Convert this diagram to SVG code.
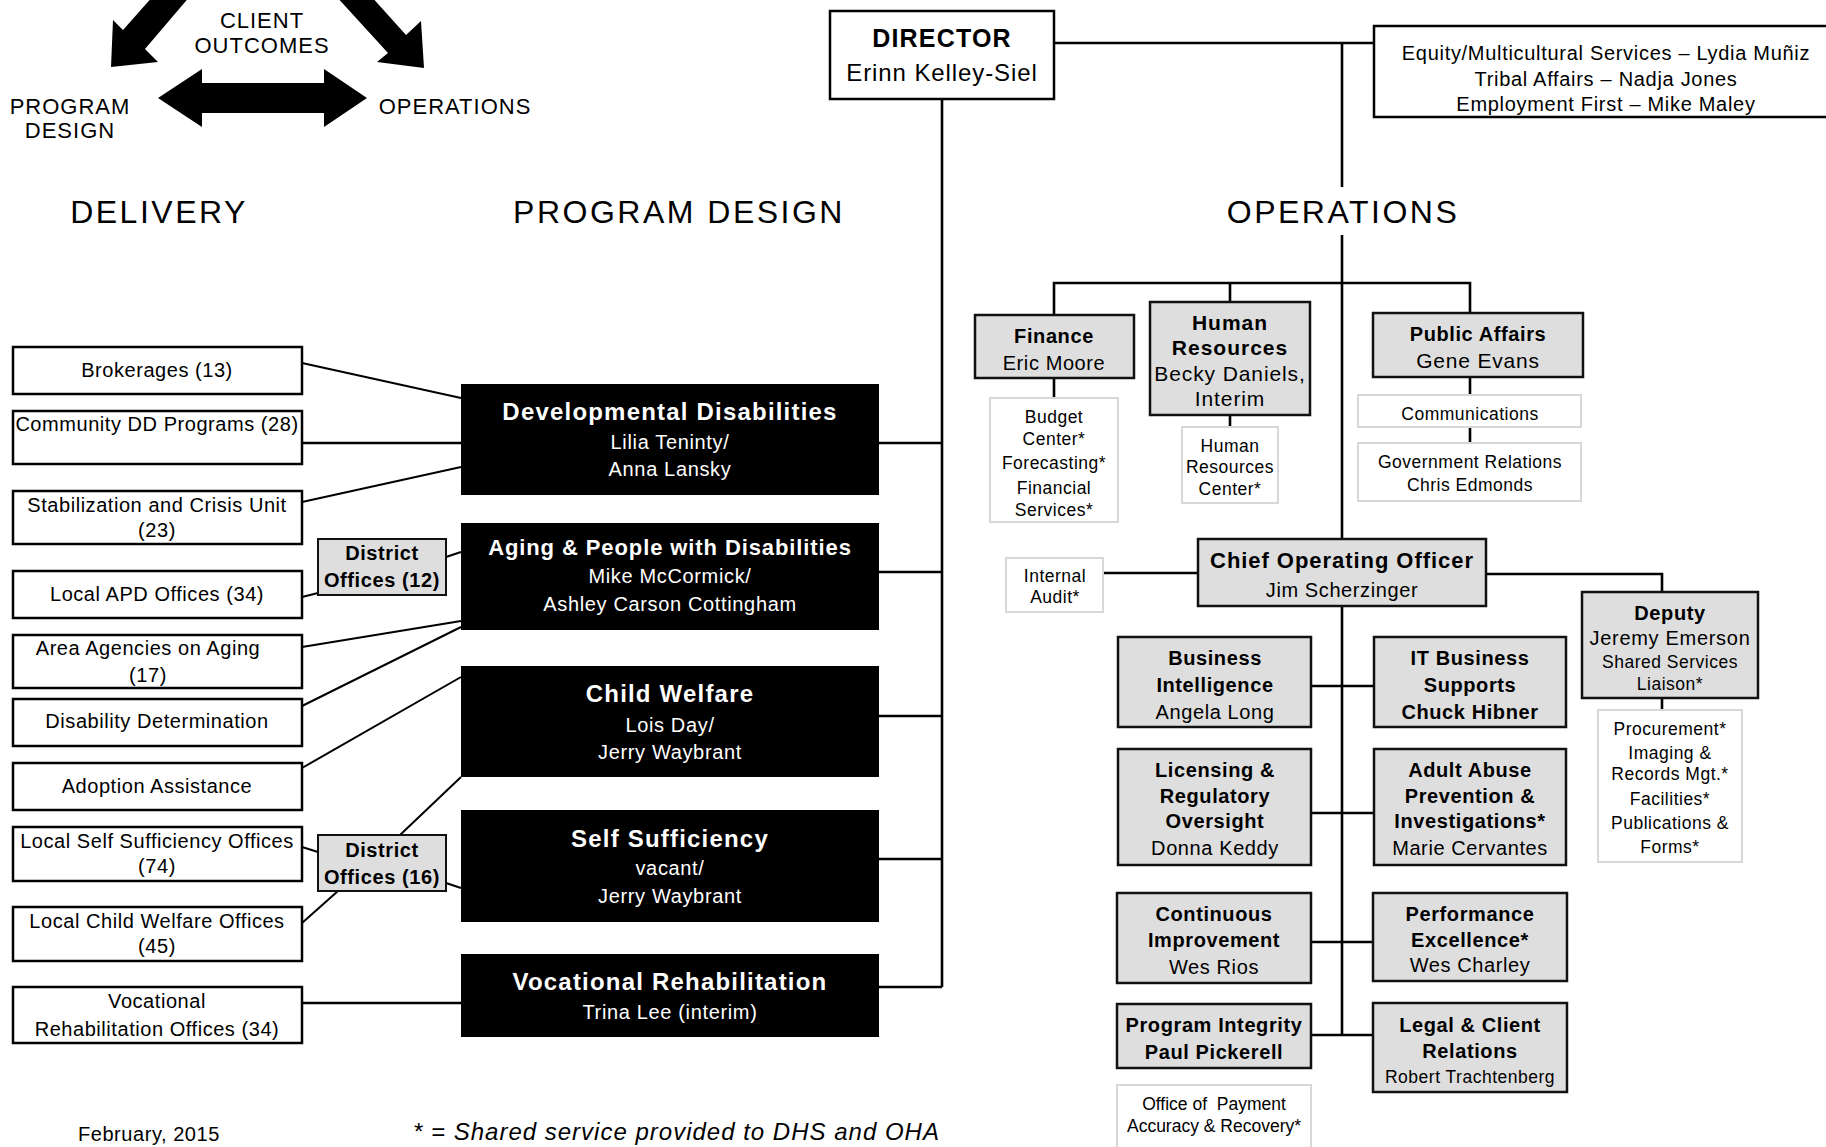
<svg xmlns="http://www.w3.org/2000/svg" width="1826" height="1147" viewBox="0 0 1826 1147">
<style>
text{font-family:"Liberation Sans",Arial,Helvetica,sans-serif;text-anchor:middle;fill:#000}
.tl{font-size:22px;letter-spacing:1px}
.hd{font-size:32px;letter-spacing:2.5px}
.lb{font-size:20px;letter-spacing:.55px}
.db{font-size:20px;font-weight:bold;letter-spacing:.6px}
.bt{font-size:24px;font-weight:bold;letter-spacing:1.2px;fill:#fff}
.bt2{font-size:22px;font-weight:bold;letter-spacing:.9px;fill:#fff}
.bs{font-size:20px;letter-spacing:.65px;fill:#fff}
.gb{font-size:20px;font-weight:bold;letter-spacing:.6px}
.gr{font-size:20px;letter-spacing:.6px}
.sm{font-size:17.5px;letter-spacing:.5px}
.wb{fill:#fff;stroke:#000;stroke-width:2.5}
.bb{fill:#000}
.gx{fill:#dedede;stroke:#111;stroke-width:2.5}
.lt{fill:#fff;stroke:#d8d8d8;stroke-width:2}
.cn{fill:none;stroke:#000;stroke-width:2.6}
.cd{fill:none;stroke:#000;stroke-width:2}
</style>
<rect width="1826" height="1147" fill="#fff"/>

<g id="cycle">
<polygon points="154,-5 123,30 113,20 111,67 158,62 145,49 191,-5" fill="#000"/>
<polygon points="335,-5 388,53 377,62 424,68 421,21 406,35 370,-5" fill="#000"/>
<polygon points="158,98 202,69 202,83 324,83 324,69 367,98 324,127 324,113 202,113 202,127" fill="#000"/>
<text class="tl" x="262" y="28">CLIENT</text>
<text class="tl" x="262" y="53">OUTCOMES</text>
<text class="tl" x="70" y="114">PROGRAM</text>
<text class="tl" x="70" y="138">DESIGN</text>
<text class="tl" x="455" y="114">OPERATIONS</text>
</g>

<g id="headings">
<text class="hd" x="159" y="223">DELIVERY</text>
<text class="hd" x="679" y="223">PROGRAM DESIGN</text>
<text class="hd" x="1343" y="223">OPERATIONS</text>
</g>

<g id="connectors">
<path class="cn" d="M1054,43H1374M1342,43V187M1342,235V1035M942,99V987"/>
<path class="cn" d="M879,443H942M879,572H942M879,716H942M879,859H942M879,987H942"/>
<path class="cn" d="M1054,315V283H1470V313M1230,283V302M1054,378V398M1230,415V427M1470,377V395M1470,427V443"/>
<path class="cn" d="M1103,573H1198M1486,574H1662V592M1662,698V710"/>
<path class="cn" d="M1311,686H1374M1311,813H1374M1311,942H1373M1311,1035H1373"/>
<path class="cd" d="M302,363L461,398M302,502L461,467M302,597L318,593M446,557L461,552M302,647L461,621M302,706L461,627M302,768L461,677M400,835L461,777M302,847L318,852M302,923L338,891M446,883L461,888"/>
<path class="cn" d="M302,443H461M302,1003H461"/>
</g>

<g id="director">
<rect class="wb" x="830" y="11" width="224" height="88"/>
<text x="942" y="47" style="font-size:25px;font-weight:bold;letter-spacing:1.2px">DIRECTOR</text>
<text x="942" y="81" style="font-size:24px;letter-spacing:.9px">Erinn Kelley-Siel</text>
</g>
<g id="equity">
<rect class="wb" x="1374" y="26" width="460" height="91"/>
<text class="gr" x="1606" y="60" style="letter-spacing:.7px">Equity/Multicultural Services – Lydia Muñiz</text>
<text class="gr" x="1606" y="86" style="letter-spacing:.7px">Tribal Affairs – Nadja Jones</text>
<text class="gr" x="1606" y="111" style="letter-spacing:.7px">Employment First – Mike Maley</text>
</g>

<g id="brokerages"><rect class="wb" x="13" y="347" width="289" height="47"/><text class="lb" x="157" y="377">Brokerages (13)</text></g>
<g id="community-dd"><rect class="wb" x="13" y="411" width="289" height="53"/><text class="lb" x="157" y="431">Community DD Programs (28)</text></g>
<g id="stabilization"><rect class="wb" x="13" y="491" width="289" height="53"/><text class="lb" x="157" y="512">Stabilization and Crisis Unit</text><text class="lb" x="157" y="537">(23)</text></g>
<g id="local-apd"><rect class="wb" x="13" y="571" width="289" height="47"/><text class="lb" x="157" y="601">Local APD Offices (34)</text></g>
<g id="aaa"><rect class="wb" x="13" y="635" width="289" height="53"/><text class="lb" x="148" y="655">Area Agencies on Aging</text><text class="lb" x="148" y="682">(17)</text></g>
<g id="disability-determination"><rect class="wb" x="13" y="699" width="289" height="47"/><text class="lb" x="157" y="728">Disability Determination</text></g>
<g id="adoption"><rect class="wb" x="13" y="763" width="289" height="47"/><text class="lb" x="157" y="793">Adoption Assistance</text></g>
<g id="local-ss"><rect class="wb" x="13" y="827" width="289" height="54"/><text class="lb" x="157" y="848">Local Self Sufficiency Offices</text><text class="lb" x="157" y="873">(74)</text></g>
<g id="local-cw"><rect class="wb" x="13" y="907" width="289" height="54"/><text class="lb" x="157" y="928">Local Child Welfare Offices</text><text class="lb" x="157" y="953">(45)</text></g>
<g id="vr-offices"><rect class="wb" x="13" y="987" width="289" height="56"/><text class="lb" x="157" y="1008">Vocational</text><text class="lb" x="157" y="1036">Rehabilitation Offices (34)</text></g>

<g id="district-12"><rect class="gx" x="318" y="539" width="128" height="56" style="stroke-width:2"/><text class="db" x="382" y="560">District</text><text class="db" x="382" y="587">Offices (12)</text></g>
<g id="district-16"><rect class="gx" x="318" y="835" width="128" height="56" style="stroke-width:2"/><text class="db" x="382" y="857">District</text><text class="db" x="382" y="884">Offices (16)</text></g>

<g id="dd"><rect class="bb" x="461" y="384" width="418" height="111"/><text class="bt" x="670" y="420">Developmental Disabilities</text><text class="bs" x="670" y="449">Lilia Teninty/</text><text class="bs" x="670" y="476">Anna Lansky</text></g>
<g id="apd"><rect class="bb" x="461" y="523" width="418" height="107"/><text class="bt2" x="670" y="555">Aging &amp; People with Disabilities</text><text class="bs" x="670" y="583">Mike McCormick/</text><text class="bs" x="670" y="611">Ashley Carson Cottingham</text></g>
<g id="cw"><rect class="bb" x="461" y="666" width="418" height="111"/><text class="bt" x="670" y="702">Child Welfare</text><text class="bs" x="670" y="732">Lois Day/</text><text class="bs" x="670" y="759">Jerry Waybrant</text></g>
<g id="ss"><rect class="bb" x="461" y="810" width="418" height="112"/><text class="bt" x="670" y="847">Self Sufficiency</text><text class="bs" x="670" y="875">vacant/</text><text class="bs" x="670" y="903">Jerry Waybrant</text></g>
<g id="vr"><rect class="bb" x="461" y="954" width="418" height="83"/><text class="bt" x="670" y="990">Vocational Rehabilitation</text><text class="bs" x="670" y="1019">Trina Lee (interim)</text></g>

<g id="finance"><rect class="gx" x="975" y="315" width="159" height="63"/><text class="gb" x="1054" y="343">Finance</text><text class="gr" x="1054" y="370">Eric Moore</text></g>
<g id="finance-sub"><rect class="lt" x="990" y="398" width="128" height="124"/><text class="sm" x="1054" y="423">Budget</text><text class="sm" x="1054" y="445">Center*</text><text class="sm" x="1054" y="469">Forecasting*</text><text class="sm" x="1054" y="494">Financial</text><text class="sm" x="1054" y="516">Services*</text></g>
<g id="hr"><rect class="gx" x="1150" y="302" width="160" height="113"/><text class="gb" x="1230" y="330" style="font-size:21px;letter-spacing:1px">Human</text><text class="gb" x="1230" y="355" style="font-size:21px;letter-spacing:1px">Resources</text><text class="gr" x="1230" y="381" style="font-size:21px;letter-spacing:.9px">Becky Daniels,</text><text class="gr" x="1230" y="406" style="font-size:21px;letter-spacing:.9px">Interim</text></g>
<g id="hr-sub"><rect class="lt" x="1182" y="427" width="96" height="76"/><text class="sm" x="1230" y="452">Human</text><text class="sm" x="1230" y="473">Resources</text><text class="sm" x="1230" y="495">Center*</text></g>
<g id="public-affairs"><rect class="gx" x="1373" y="313" width="210" height="64"/><text class="gb" x="1478" y="341">Public Affairs</text><text class="gr" x="1478" y="368" style="font-size:21px;letter-spacing:.8px">Gene Evans</text></g>
<g id="communications"><rect class="lt" x="1358" y="395" width="223" height="32"/><text class="sm" x="1470" y="420">Communications</text></g>
<g id="gov-relations"><rect class="lt" x="1358" y="443" width="223" height="58"/><text class="sm" x="1470" y="468">Government Relations</text><text class="sm" x="1470" y="491">Chris Edmonds</text></g>
<g id="internal-audit"><rect class="lt" x="1006" y="558" width="97" height="54"/><text class="sm" x="1055" y="582">Internal</text><text class="sm" x="1055" y="603">Audit*</text></g>
<g id="coo"><rect class="gx" x="1198" y="539" width="288" height="67"/><text class="gb" x="1342" y="568" style="font-size:22px;letter-spacing:.95px">Chief Operating Officer</text><text class="gr" x="1342" y="597">Jim Scherzinger</text></g>
<g id="deputy"><rect class="gx" x="1582" y="592" width="176" height="106"/><text class="gb" x="1670" y="620">Deputy</text><text class="gr" x="1670" y="645" style="letter-spacing:.7px">Jeremy Emerson</text><text class="sm" x="1670" y="668">Shared Services</text><text class="sm" x="1670" y="690">Liaison*</text></g>
<g id="deputy-sub"><rect class="lt" x="1598" y="710" width="144" height="152"/><text class="sm" x="1670" y="735">Procurement*</text><text class="sm" x="1670" y="759">Imaging &amp;</text><text class="sm" x="1670" y="780">Records Mgt.*</text><text class="sm" x="1670" y="805">Facilities*</text><text class="sm" x="1670" y="829">Publications &amp;</text><text class="sm" x="1670" y="853">Forms*</text></g>
<g id="business-intelligence"><rect class="gx" x="1118" y="637" width="193" height="90"/><text class="gb" x="1215" y="665">Business</text><text class="gb" x="1215" y="692">Intelligence</text><text class="gr" x="1215" y="719">Angela Long</text></g>
<g id="it-business"><rect class="gx" x="1374" y="637" width="192" height="90"/><text class="gb" x="1470" y="665">IT Business</text><text class="gb" x="1470" y="692">Supports</text><text class="gb" x="1470" y="719">Chuck Hibner</text></g>
<g id="licensing"><rect class="gx" x="1118" y="749" width="193" height="116"/><text class="gb" x="1215" y="777">Licensing &amp;</text><text class="gb" x="1215" y="803">Regulatory</text><text class="gb" x="1215" y="828">Oversight</text><text class="gr" x="1215" y="855">Donna Keddy</text></g>
<g id="adult-abuse"><rect class="gx" x="1374" y="749" width="192" height="116"/><text class="gb" x="1470" y="777">Adult Abuse</text><text class="gb" x="1470" y="803">Prevention &amp;</text><text class="gb" x="1470" y="828">Investigations*</text><text class="gr" x="1470" y="855">Marie Cervantes</text></g>
<g id="continuous-improvement"><rect class="gx" x="1117" y="893" width="194" height="90"/><text class="gb" x="1214" y="921">Continuous</text><text class="gb" x="1214" y="947">Improvement</text><text class="gr" x="1214" y="974">Wes Rios</text></g>
<g id="performance-excellence"><rect class="gx" x="1373" y="893" width="194" height="88"/><text class="gb" x="1470" y="921">Performance</text><text class="gb" x="1470" y="947">Excellence*</text><text class="gr" x="1470" y="972">Wes Charley</text></g>
<g id="program-integrity"><rect class="gx" x="1117" y="1004" width="194" height="64"/><text class="gb" x="1214" y="1032">Program Integrity</text><text class="gb" x="1214" y="1059">Paul Pickerell</text></g>
<g id="legal"><rect class="gx" x="1373" y="1003" width="194" height="89"/><text class="gb" x="1470" y="1032">Legal &amp; Client</text><text class="gb" x="1470" y="1058">Relations</text><text class="sm" x="1470" y="1083">Robert Trachtenberg</text></g>
<g id="opar"><rect class="lt" x="1117" y="1085" width="194" height="80"/><text class="sm" x="1214" y="1110" style="letter-spacing:0;white-space:pre">Office of  Payment</text><text class="sm" x="1214" y="1132" style="letter-spacing:0">Accuracy &amp; Recovery*</text></g>

<g id="footer">
<text class="lb" x="78" y="1141" style="text-anchor:start">February, 2015</text>
<text x="413" y="1140" style="text-anchor:start;font-size:24px;font-style:italic;letter-spacing:1px">* = Shared service provided to DHS and OHA</text>
</g>
</svg>
